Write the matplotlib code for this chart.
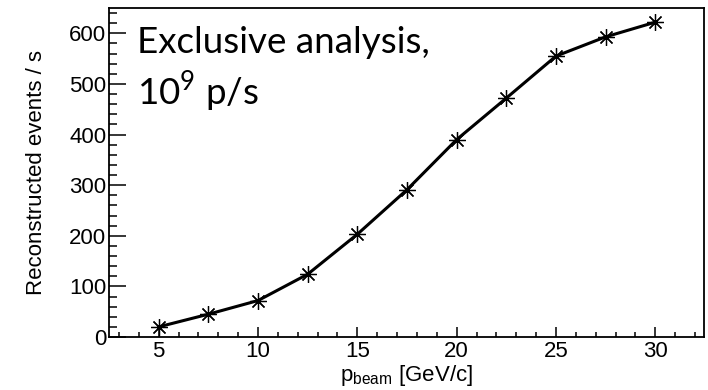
import matplotlib
matplotlib.use("Agg")
import matplotlib.pyplot as plt
from matplotlib.ticker import MultipleLocator

p_beam = [5, 7.5, 10, 12.5, 15, 17.5, 20, 22.5, 25, 27.5, 30]
rate = [20, 45, 72, 124, 203, 291, 390, 472, 555, 593, 622]

plt.rcParams['font.family'] = ['Liberation Sans', 'DejaVu Sans']
plt.rcParams['mathtext.fontset'] = 'custom'
plt.rcParams['mathtext.rm'] = 'Lato'
plt.rcParams['mathtext.sf'] = 'Liberation Sans'

fig = plt.figure(figsize=(7.08, 3.90), dpi=100)
ax = fig.add_axes([109/708, 53/390, 595/708, 329/390])

ax.plot(p_beam, rate, color='black', lw=2.2, marker=(8, 2, 0), ms=12,
        mew=0.9, mec='black')

ax.set_xlim(2.5, 32.45)
ax.set_ylim(0, 650)
ax.xaxis.set_major_locator(MultipleLocator(5))
ax.xaxis.set_minor_locator(MultipleLocator(1))
ax.yaxis.set_major_locator(MultipleLocator(100))
ax.yaxis.set_minor_locator(MultipleLocator(20))

ax.tick_params(axis='both', which='both', direction='in', labelsize=16,
               top=False, right=False, width=1.1)
ax.tick_params(axis='x', which='major', length=7.5, pad=3)
ax.tick_params(axis='x', which='minor', length=3.8)
ax.tick_params(axis='y', which='major', length=12, pad=2)
ax.tick_params(axis='y', which='minor', length=6)
for s in ax.spines.values():
    s.set_linewidth(1.3)

ax.set_ylabel('Reconstructed events / s', fontsize=16)
ax.yaxis.set_label_coords(-0.104, 0.5)
ax.set_xlabel(r'$\mathsf{p}_{\mathsf{beam}}$ [GeV/c]', fontsize=16, labelpad=0.5)

ax.text(137/708, 1 - 53/390, 'Exclusive analysis,', transform=fig.transFigure,
        fontfamily='Lato', fontsize=26.5, ha='left', va='baseline')
ax.text(137/708, 1 - 105/390, r'$\mathrm{10}^{\mathrm{9}}$ p/s', transform=fig.transFigure,
        fontfamily='Lato', fontsize=26.5, ha='left', va='baseline')

fig.savefig('out.png', dpi=100)
